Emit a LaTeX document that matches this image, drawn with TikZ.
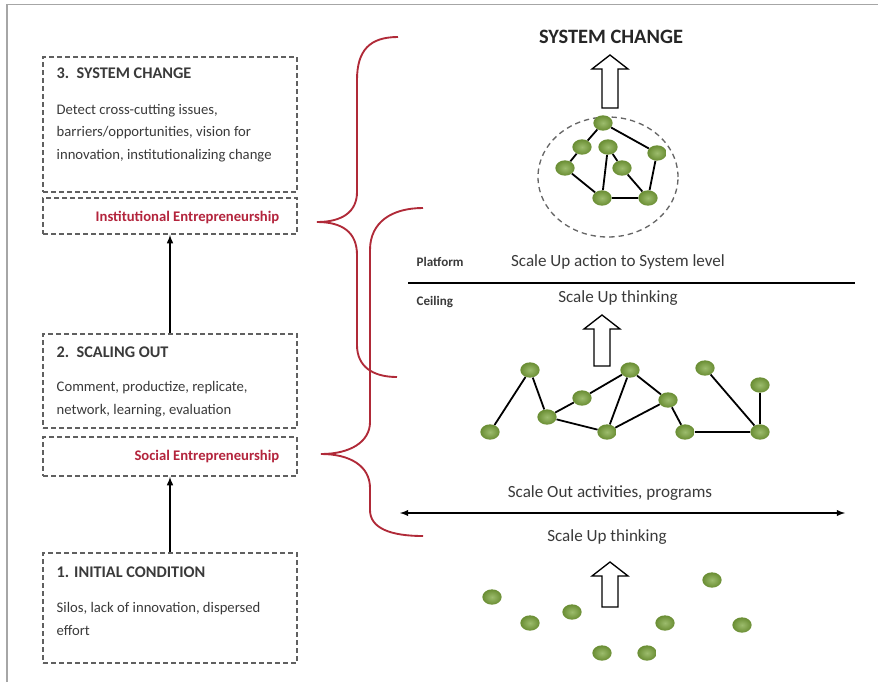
\documentclass[tikz,border=0pt]{standalone}
\usepackage{fontspec}
\setmainfont{Carlito}
\usetikzlibrary{positioning,shapes.geometric,arrows}
\definecolor{bracered}{HTML}{B02A38}
\definecolor{labelred}{HTML}{B3243C}
\definecolor{dotgreen}{HTML}{7CA63C}
\definecolor{txtgray}{HTML}{3A3A3A}

\begin{document}
\begin{tikzpicture}[x=0.75pt, y=-0.75pt, >=latex,
	box/.style = {draw=gray!75!black, dash pattern=on 3.5pt off 2.5pt, line width=1.1pt, minimum width=190.5pt},
	title/.style = {anchor=west, text=txtgray, font=\fontsize{12.2}{14}\selectfont\bfseries},
	body/.style = {anchor=west, text=txtgray, align=left, font=\fontsize{11}{16.9}\selectfont},
	entre/.style = {anchor=east, text=labelred, font=\fontsize{11}{13}\selectfont\bfseries},
	dot/.style = {ellipse, inner sep=0pt, minimum width=14.5pt, minimum height=11.5pt, inner color=dotgreen!75!white, outer color=dotgreen!85!black},
	link/.style = {line width=1.35pt},
	brace/.style = {draw=bracered, line width=1.4pt},
	say/.style = {text=txtgray, font=\fontsize{12.8}{15}\selectfont},
	hollow/.pic = {\draw[line width=1pt, fill=white] (0,0) -- (18,14) -- (8,14) -- (8,#1) -- (-8,#1) -- (-8,14) -- (-18,14) -- cycle;}]
\useasboundingbox (0,0) rectangle (878,682);
\draw[gray!70, line width=0.9pt] (7,682) -- (7,4.5) -- (878,4.5);

\node[box, minimum height=101.25pt] (sys box)  at (170,124.5) {};
\node[box, minimum height=27pt]     (inst box) at (170,216)   {};
\node[box, minimum height=70.5pt]   (out box)  at (170,381)   {};
\node[box, minimum height=29.25pt]  (soc box)  at (170,456.5) {};
\node[box, minimum height=82.5pt]   (init box) at (170,608)   {};

\node[title] (sys title)  at (52,73)  {3.\ \ SYSTEM CHANGE};
\node[body]  (sys text)   at (52,133) {Detect cross-cutting issues,\\barriers/opportunities, vision for\\innovation, institutionalizing change};
\node[entre] (inst label) at (284,217) {Institutional Entrepreneurship};
\node[title] (out title)  at (52,352) {2.\ \ SCALING OUT};
\node[body]  (out text)   at (52,399) {Comment, productize, replicate,\\network, learning, evaluation};
\node[entre] (soc label)  at (284,457) {Social Entrepreneurship};
\node[title] (init title) at (52,572) {1. INITIAL CONDITION};
\node[body]  (init text)  at (52,619) {Silos, lack of innovation, dispersed\\effort};

\draw[->, line width=1.2pt] (out box.north) -- (inst box.south);
\draw[->, line width=1.2pt] (init box.north) -- (soc box.south);

\draw[brace] (398,37) .. controls (370,37) and (357,50) .. (357,80) -- (357,192)
	.. controls (357,212) and (342,222) .. (317,222) .. controls (342,222) and (357,232) .. (357,255)
	-- (357,345) .. controls (357,366) and (372,377) .. (397,377);
\draw[brace] (423,208) .. controls (392,208) and (370,222) .. (370,250) -- (370,422)
	.. controls (370,442) and (350,454) .. (321,454) .. controls (350,454) and (370,466) .. (370,488)
	-- (370,510) .. controls (370,528) and (390,536) .. (423,536);

\node[text=black!85, font=\fontsize{15.3}{17}\selectfont\bfseries] (top label) at (611,37) {SYSTEM CHANGE};
\pic at (610,55) {hollow=53};
\node[draw=gray!80!black, dash pattern=on 4pt off 3pt, line width=1pt, ellipse, minimum width=105pt, minimum height=90pt] (ring) at (608,177) {};

\node[dot] (top 1) at (603,123) {};
\node[dot] (top 2) at (582,147) {};
\node[dot] (top 3) at (608,147) {};
\node[dot] (top 4) at (657,153) {};
\node[dot] (top 5) at (565,168) {};
\node[dot] (top 6) at (622,168) {};
\node[dot] (top 7) at (602,198) {};
\node[dot] (top 8) at (648,198) {};
\draw[link] (top 1) -- (top 2) -- (top 5) -- (top 7) -- (top 8) -- (top 4) -- (top 1);
\draw[link] (top 3) -- (top 7);
\draw[link] (top 3) -- (top 6) -- (top 8);

\node[anchor=west, text=txtgray, font=\fontsize{9.8}{12}\selectfont\bfseries] (platform) at (412,262) {Platform};
\node[say] (action) at (618,262) {Scale Up action to System level};
\draw[line width=1.1pt] (408,283) -- (855,283);
\node[anchor=west, text=txtgray, font=\fontsize{9.8}{12}\selectfont\bfseries] (ceiling) at (412,302) {Ceiling};
\node[say] (think up) at (618,298) {Scale Up thinking};
\pic at (602,315) {hollow=51};

\node[dot] (mid 1)  at (530,370) {};
\node[dot] (mid 2)  at (490,432) {};
\node[dot] (mid 3)  at (547,417) {};
\node[dot] (mid 4)  at (582,398) {};
\node[dot] (mid 5)  at (630,370) {};
\node[dot] (mid 6)  at (607,432) {};
\node[dot] (mid 7)  at (668,400) {};
\node[dot] (mid 8)  at (685,432) {};
\node[dot] (mid 9)  at (705,368) {};
\node[dot] (mid 10) at (760,385) {};
\node[dot] (mid 11) at (760,432) {};
\draw[link] (mid 2) -- (mid 1) -- (mid 3) -- (mid 4) -- (mid 5) -- (mid 6) -- (mid 3);
\draw[link] (mid 5) -- (mid 7) -- (mid 8) -- (mid 11) -- (mid 9);
\draw[link] (mid 6) -- (mid 7);
\draw[link] (mid 10) -- (mid 11);

\coordinate (out left)  at (400,513);
\coordinate (out right) at (845,513);
\node[say] (scale out) at (610,493) {Scale Out activities, programs};
\draw[<->, line width=1.1pt] (out left) -- (out right);
\node[say] (think low) at (607,537) {Scale Up thinking};
\pic at (610,562) {hollow=45};

\node[dot] (low 1) at (492,597) {};
\node[dot] (low 2) at (530,623) {};
\node[dot] (low 3) at (572,612) {};
\node[dot] (low 4) at (602,653) {};
\node[dot] (low 5) at (647,653) {};
\node[dot] (low 6) at (665,623) {};
\node[dot] (low 7) at (712,580) {};
\node[dot] (low 8) at (742,625) {};
\end{tikzpicture}
\end{document}
